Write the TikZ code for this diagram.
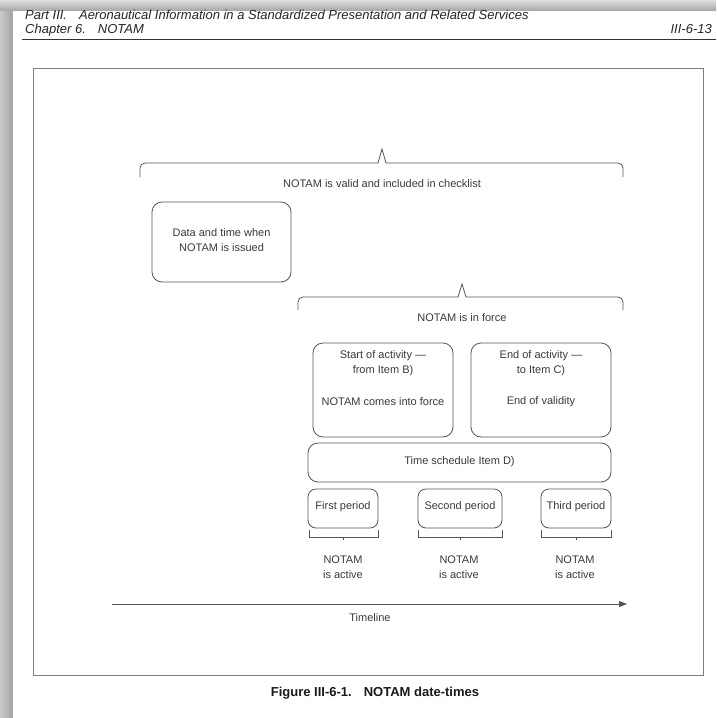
\documentclass[tikz,border=0pt]{standalone}
\usepackage{fontspec}
\setmainfont{Liberation Sans}
\usetikzlibrary{arrows.meta}
\definecolor{ink}{HTML}{3A3A3A}
\definecolor{linec}{HTML}{555555}
\definecolor{shadowc}{HTML}{A4A4A4}
\definecolor{framec}{HTML}{808080}
\begin{document}
\begin{tikzpicture}[x=1pt,y=-1pt,
  box/.style={draw=linec,line width=0.8pt,rounded corners=10pt,inner sep=0pt},
  txt/.style={text=ink,font=\fontsize{11}{15}\selectfont,inner sep=0pt,align=center},
  brc/.style={draw=linec,line width=0.8pt},
  hdr/.style={text=black!85,font=\itshape\fontsize{13}{15}\selectfont,inner sep=0pt},
]
\useasboundingbox (0,0) rectangle (716,718);
% page and shadow
\fill[shadowc] (0,0) rectangle (716,718);
\shade[top color=shadowc!35,bottom color=shadowc] (0,0) rectangle (716,11);
\shade[left color=shadowc!60,right color=shadowc] (0,11) rectangle (13,718);
\fill[white] (13,11) rectangle (716,718);
% header
\node[hdr,anchor=base west] (h1) at (25,19) {Part III.\hspace{12pt}Aeronautical Information in a Standardized Presentation and Related Services};
\node[hdr,anchor=base west] (h2) at (25,33) {Chapter 6.\hspace{12pt}NOTAM};
\node[hdr,anchor=base east] (h3) at (712,33) {III-6-13};
\draw[black!80,line width=0.7pt] (22,39) -- (716,39);
% frame
\draw[framec,line width=1pt] (33,68) rectangle (703,675);
% brace 1
\draw[brc] (140,177) -- (140,168) arc[start angle=180,end angle=270,radius=5] -- (378,163) -- (382,149) -- (386,163) -- (618,163) arc[start angle=270,end angle=360,radius=5] -- (623,177);
\node[txt] (valid) at (382,184) {NOTAM is valid and included in checklist};
% issued box
\node[box,minimum width=139pt,minimum height=80pt] (issued) at (221.5,242) {};
\node[txt] (issuedt) at (221.5,240) {Data and time when\\NOTAM is issued};
% brace 2
\draw[brc] (298,310) -- (298,302) arc[start angle=180,end angle=270,radius=5] -- (458,297) -- (462,284) -- (466,297) -- (618,297) arc[start angle=270,end angle=360,radius=5] -- (623,310);
\node[txt] (force) at (462,318) {NOTAM is in force};
% start / end boxes
\node[box,minimum width=140pt,minimum height=94pt] (start) at (383,390) {};
\node[txt,anchor=north] (startt) at (383,350) {Start of activity —\\from Item B)};
\node[txt] (startf) at (383,402) {NOTAM comes into force};
\node[box,minimum width=140pt,minimum height=94pt] (endb) at (541,390) {};
\node[txt,anchor=north] (endt) at (541,350) {End of activity —\\to Item C)};
\node[txt] (endv) at (541,402) {End of validity};
% schedule
\node[box,minimum width=303pt,minimum height=39pt] (sched) at (459.5,462.5) {};
\node[txt] (schedt) at (459.5,462) {Time schedule Item D)};
% periods
\node[box,rounded corners=8pt,minimum width=70pt,minimum height=39pt] (p1) at (343,508.5) {};
\node[txt] (p1t) at (343,507) {First period};
\node[box,rounded corners=8pt,minimum width=84pt,minimum height=39pt] (p2) at (460,508.5) {};
\node[txt] (p2t) at (460,507) {Second period};
\node[box,rounded corners=8pt,minimum width=70pt,minimum height=39pt] (p3) at (576,508.5) {};
\node[txt] (p3t) at (576,507) {Third period};
% small braces
\draw[brc] (309,530) -- (309,537) -- (378,537) -- (378,530) (343,537) -- (343,540);
\draw[brc] (418,530) -- (418,537) -- (502,537) -- (502,530) (460,537) -- (460,540);
\draw[brc] (541,530) -- (541,537) -- (611,537) -- (611,530) (576,537) -- (576,540);
\node[txt] (a1) at (343,567) {NOTAM\\is active};
\node[txt] (a2) at (459,567) {NOTAM\\is active};
\node[txt] (a3) at (575,567) {NOTAM\\is active};
% timeline
\coordinate (tl0) at (112,604);
\coordinate (tl1) at (627,604);
\draw[linec,line width=0.9pt,-{Triangle[length=8pt,width=6pt]}] (tl0) -- (tl1);
\node[txt] (tl) at (370,618) {Timeline};
% caption
\node[text=black!90,font=\bfseries\fontsize{13}{15}\selectfont,inner sep=0pt] (cap) at (375,693) {Figure III-6-1.\hspace{12pt}NOTAM date-times};
\end{tikzpicture}
\end{document}
